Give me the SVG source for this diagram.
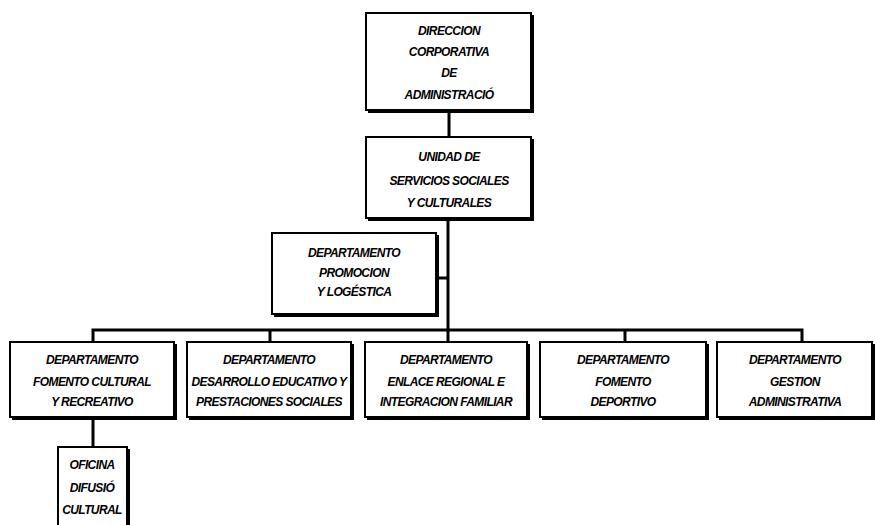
<svg xmlns="http://www.w3.org/2000/svg" width="875" height="525" viewBox="0 0 875 525">
<style>
.sh{fill:#000}
.bx{fill:#fff;stroke:#000;stroke-width:2}
.t{font-family:"Liberation Sans",Arial,sans-serif;font-weight:bold;font-style:italic;font-size:12px;letter-spacing:-0.6px;text-anchor:middle;fill:#000}
.ln{stroke:#000;stroke-width:3;fill:none}
</style>
<rect width="875" height="525" fill="#fff"/>
<g id="connectors">
<line class="ln" x1="449" y1="110" x2="449" y2="137"/>
<line class="ln" x1="448" y1="218" x2="448" y2="342"/>
<line class="ln" x1="437" y1="278" x2="448" y2="278"/>
<polyline class="ln" points="93,342 93,330 802,330 802,342"/>
<line class="ln" x1="270" y1="330" x2="270" y2="342"/>
<line class="ln" x1="625" y1="330" x2="625" y2="342"/>
<line class="ln" x1="93" y1="417" x2="93" y2="447"/>
</g>
<g id="n1">
<rect class="sh" x="368" y="15" width="166" height="98"/>
<rect class="bx" x="366" y="13" width="165" height="97"/>
<text class="t" x="449" y="35">DIRECCION</text>
<text class="t" x="449" y="56">CORPORATIVA</text>
<text class="t" x="449" y="77">DE</text>
<text class="t" x="449" y="99">ADMINISTRACIÓ</text>
</g>
<g id="n2">
<rect class="sh" x="368" y="139" width="166" height="82"/>
<rect class="bx" x="366" y="137" width="165" height="81"/>
<text class="t" x="449" y="161">UNIDAD DE</text>
<text class="t" x="449" y="185">SERVICIOS SOCIALES</text>
<text class="t" x="449" y="207">Y CULTURALES</text>
</g>
<g id="n3">
<rect class="sh" x="274" y="235" width="165" height="82"/>
<rect class="bx" x="272" y="233" width="164" height="81"/>
<text class="t" x="354" y="257">DEPARTAMENTO</text>
<text class="t" x="354" y="277">PROMOCION</text>
<text class="t" x="354" y="296">Y LOGÉSTICA</text>
</g>
<g id="n4">
<rect class="sh" x="12" y="344" width="165" height="76"/>
<rect class="bx" x="10" y="342" width="164" height="75"/>
<text class="t" x="92" y="364">DEPARTAMENTO</text>
<text class="t" x="92" y="386">FOMENTO CULTURAL</text>
<text class="t" x="92" y="406">Y RECREATIVO</text>
</g>
<g id="n5">
<rect class="sh" x="189" y="344" width="165" height="76"/>
<rect class="bx" x="187" y="342" width="164" height="75"/>
<text class="t" x="269" y="364">DEPARTAMENTO</text>
<text class="t" x="269" y="386">DESARROLLO EDUCATIVO Y</text>
<text class="t" x="269" y="406">PRESTACIONES SOCIALES</text>
</g>
<g id="n6">
<rect class="sh" x="367" y="344" width="163" height="76"/>
<rect class="bx" x="365" y="342" width="162" height="75"/>
<text class="t" x="446" y="364">DEPARTAMENTO</text>
<text class="t" x="446" y="386">ENLACE REGIONAL E</text>
<text class="t" x="446" y="406">INTEGRACION FAMILIAR</text>
</g>
<g id="n7">
<rect class="sh" x="542" y="344" width="167" height="76"/>
<rect class="bx" x="540" y="342" width="166" height="75"/>
<text class="t" x="623" y="364">DEPARTAMENTO</text>
<text class="t" x="623" y="386">FOMENTO</text>
<text class="t" x="623" y="406">DEPORTIVO</text>
</g>
<g id="n8">
<rect class="sh" x="719" y="344" width="156" height="76"/>
<rect class="bx" x="717" y="342" width="155" height="75"/>
<text class="t" x="795" y="364">DEPARTAMENTO</text>
<text class="t" x="795" y="386">GESTION</text>
<text class="t" x="795" y="406">ADMINISTRATIVA</text>
</g>
<g id="n9">
<rect class="sh" x="60" y="449" width="70" height="80"/>
<rect class="bx" x="58" y="447" width="69" height="80"/>
<text class="t" x="92" y="469">OFICINA</text>
<text class="t" x="92" y="492">DIFUSIÓ</text>
<text class="t" x="92" y="514">CULTURAL</text>
</g>
</svg>
